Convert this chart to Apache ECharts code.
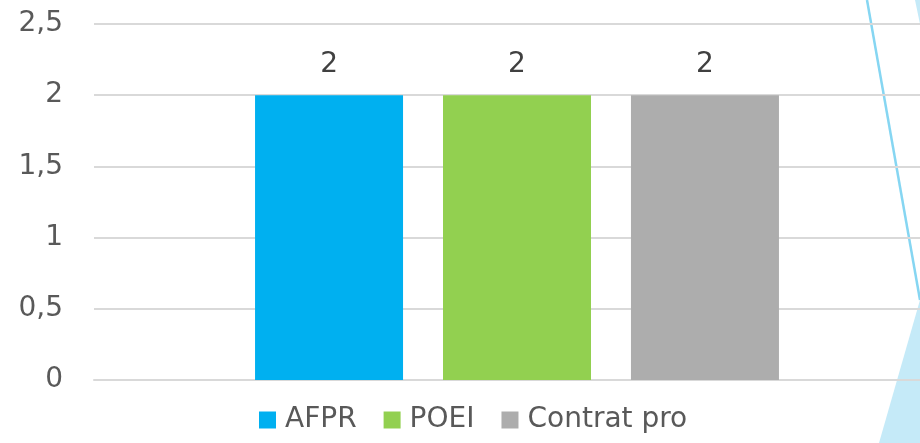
<!DOCTYPE html>
<html>
<head>
<meta charset="utf-8">
<script src="https://cdn.jsdelivr.net/npm/echarts@6/dist/echarts.min.js"></script>
<style>
html, body { margin: 0; padding: 0; background: #fff; }
#main { width: 920px; height: 443px; }
</style>
</head>
<body>
<div id="main"></div>
<script>
var categories = [''];
var seriesNames = ['AFPR', 'POEI', 'Contrat pro'];
var seriesColors = ['#00B0F0', '#92D050', '#ADADAD'];
var seriesValues = [[2], [2], [2]];
var yTicks = { min: 0, max: 2.5, interval: 0.5 };

var fontName = 'DejaVu Sans';
var myChart = echarts.init(document.getElementById('main'));

var series = [];
for (var i = 0; i < seriesNames.length; i++) {
	series.push({
		name: seriesNames[i],
		type: 'bar',
		xAxisIndex: 1,
		yAxisIndex: 1,
		barWidth: 148,
		barGap: '27%',
		itemStyle: { color: seriesColors[i] },
		label: {
			show: true,
			position: 'top',
			distance: 16,
			color: '#404040',
			fontFamily: fontName,
			fontSize: 28
		},
		data: seriesValues[i]
	});
}

var option = {
	animation: false,
	backgroundColor: '#ffffff',
	// grid 0: gridlines + labels, grid 1: bars (the plot area is cut by the right edge)
	grid: [
		{ left: 94, right: 0, top: 24, bottom: 63 },
		{ left: 114, right: 0, top: 24, bottom: 63 }
	],
	legend: {
		left: 254,
		bottom: 4,
		itemWidth: 17,
		itemHeight: 17,
		itemGap: 27,
		icon: 'rect',
		textStyle: { color: '#595959', fontFamily: fontName, fontSize: 28, padding: [0, 0, 0, 4] },
		data: seriesNames
	},
	xAxis: [{
		type: 'category',
		gridIndex: 0,
		data: categories,
		axisLine: { show: true, lineStyle: { color: '#D9D9D9', width: 2 } },
		axisTick: { show: false },
		axisLabel: { show: false }
	}, {
		type: 'category',
		gridIndex: 1,
		data: categories,
		axisLine: { show: false },
		axisTick: { show: false },
		axisLabel: { show: false }
	}],
	yAxis: [{
		type: 'value',
		gridIndex: 0,
		min: yTicks.min,
		max: yTicks.max,
		interval: yTicks.interval,
		axisLine: { show: false },
		axisTick: { show: false },
		splitLine: { lineStyle: { color: '#D9D9D9', width: 2 } },
		axisLabel: {
			margin: 31,
			color: '#595959',
			fontFamily: fontName,
			fontSize: 28,
			formatter: function (v) { return String(v).replace('.', ','); }
		}
	}, {
		type: 'value',
		gridIndex: 1,
		min: yTicks.min,
		max: yTicks.max,
		interval: yTicks.interval,
		axisLine: { show: false },
		axisTick: { show: false },
		splitLine: { show: false },
		axisLabel: { show: false }
	}],
	// slide decoration on the right
	graphic: [
		{ type: 'polygon', shape: { points: [[920, 300], [920, 443], [879, 443]] }, style: { fill: '#C5EAF8' }, z: 0 },
		{ type: 'polygon', shape: { points: [[915, 0], [920, 0], [920, 24]] }, style: { fill: '#C5EAF8' }, z: 0 },
		{ type: 'line', shape: { x1: 867, y1: 0, x2: 920, y2: 300 }, style: { stroke: '#86D6F2', lineWidth: 2.5 }, z: 0 }
	],
	series: series
};
myChart.setOption(option);

window.onresize = function () {
	myChart.resize();
};
</script>
</body>
</html>
